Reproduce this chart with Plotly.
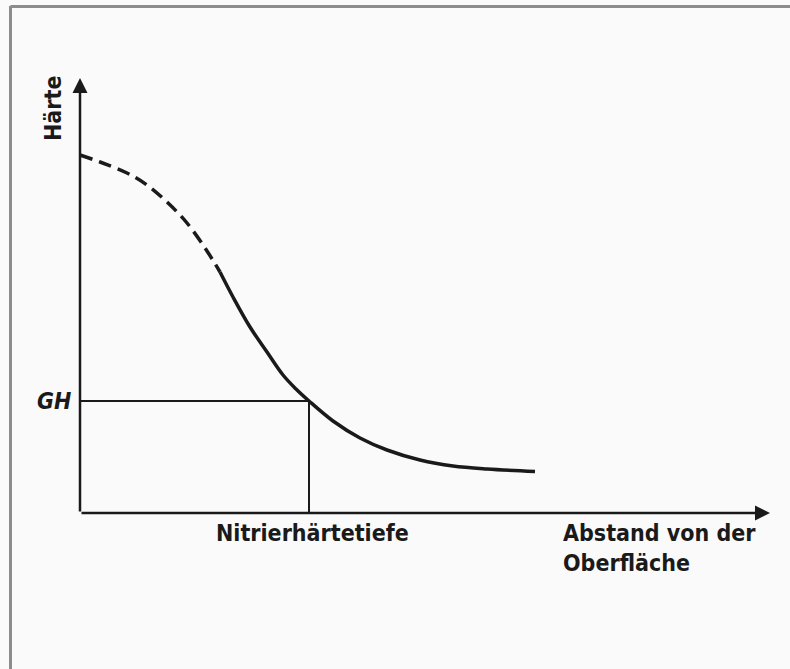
import plotly.graph_objects as go

# Schematic hardness profile (distance from surface vs hardness, arbitrary units)
distance = [0, 20, 47, 67, 87, 107, 127, 140, 153, 170, 187, 203, 216, 229, 253, 280, 307, 340, 373, 407, 455]
hardness = [358, 351, 340, 328, 311, 290, 262, 241, 216, 186, 161, 138, 124, 112, 92, 75, 63, 53, 47, 44, 41.5]
dash_end = 140          # end of dashed (extrapolated) part
gh_value = 112          # Grenzhärte GH
nht_value = 229         # Nitrierhärtetiefe
x_axis_end = 690
y_axis_end = 435

n_dash = len([x for x in distance if x <= dash_end])
x_dash, h_dash = distance[:n_dash], hardness[:n_dash]
x_solid, h_solid = distance[n_dash - 1:], hardness[n_dash - 1:]

ink = "#1a1a1a"
font_family = "DejaVu Sans Condensed, DejaVu Sans, sans-serif"
fs = 23

fig = go.Figure()
fig.add_trace(go.Scatter(x=x_dash, y=h_dash, mode="lines",
                         line=dict(color=ink, width=3.5, dash="13px,7px", shape="spline", smoothing=1),
                         hoverinfo="skip", showlegend=False))
fig.add_trace(go.Scatter(x=x_solid, y=h_solid, mode="lines",
                         line=dict(color=ink, width=3.5, shape="spline", smoothing=1),
                         hoverinfo="skip", showlegend=False))
# GH guide lines
fig.add_trace(go.Scatter(x=[0, nht_value, nht_value], y=[gh_value, gh_value, 0], mode="lines",
                         line=dict(color=ink, width=2), hoverinfo="skip", showlegend=False))

# Axes with arrows
for (x, y) in [(0, y_axis_end), (x_axis_end, 0)]:
    fig.add_annotation(x=x, y=y, ax=0, ay=0, xref="x", yref="y", axref="x", ayref="y",
                       showarrow=True, arrowhead=2, arrowsize=1.2, arrowwidth=2.5,
                       arrowcolor=ink, text="")

# Labels
fig.add_annotation(x=-27, y=404, text="<b>Härte</b>", showarrow=False, textangle=-90,
                   font=dict(family=font_family, size=fs, color=ink))
fig.add_annotation(x=-7, y=gh_value, text="<b><i>GH</i></b>", showarrow=False, xanchor="right",
                   font=dict(family=font_family, size=fs, color=ink))
fig.add_annotation(x=232, y=-20, text="<b>Nitrierhärtetiefe</b>", showarrow=False,
                   font=dict(family=font_family, size=fs, color=ink))
fig.add_annotation(x=481, y=-35, text="<b>Abstand von der<br>Oberfläche</b>", showarrow=False,
                   xanchor="left", yanchor="middle", align="left",
                   font=dict(family=font_family, size=fs, color=ink))

# Outer frame (left and top edges visible)
fig.add_shape(type="line", xref="paper", yref="paper", x0=10.5 / 790, x1=10.5 / 790,
              y0=0, y1=1 - 6 / 669, line=dict(color="#8c8c8c", width=3))
fig.add_shape(type="line", xref="paper", yref="paper", x0=10.5 / 790, x1=1,
              y0=1 - 6.5 / 669, y1=1 - 6.5 / 669, line=dict(color="#8c8c8c", width=3))

fig.update_layout(
    width=790, height=669,
    margin=dict(l=0, r=0, t=0, b=0),
    paper_bgcolor="#fafafa", plot_bgcolor="#fafafa",
    xaxis=dict(range=[-80, 710], visible=False, fixedrange=True),
    yaxis=dict(range=[-156, 513], visible=False, fixedrange=True),
    showlegend=False,
)

fig.write_html("out.html", config={"displayModeBar": False},
               post_script="document.body.style.margin='0';document.body.style.overflow='hidden';")
